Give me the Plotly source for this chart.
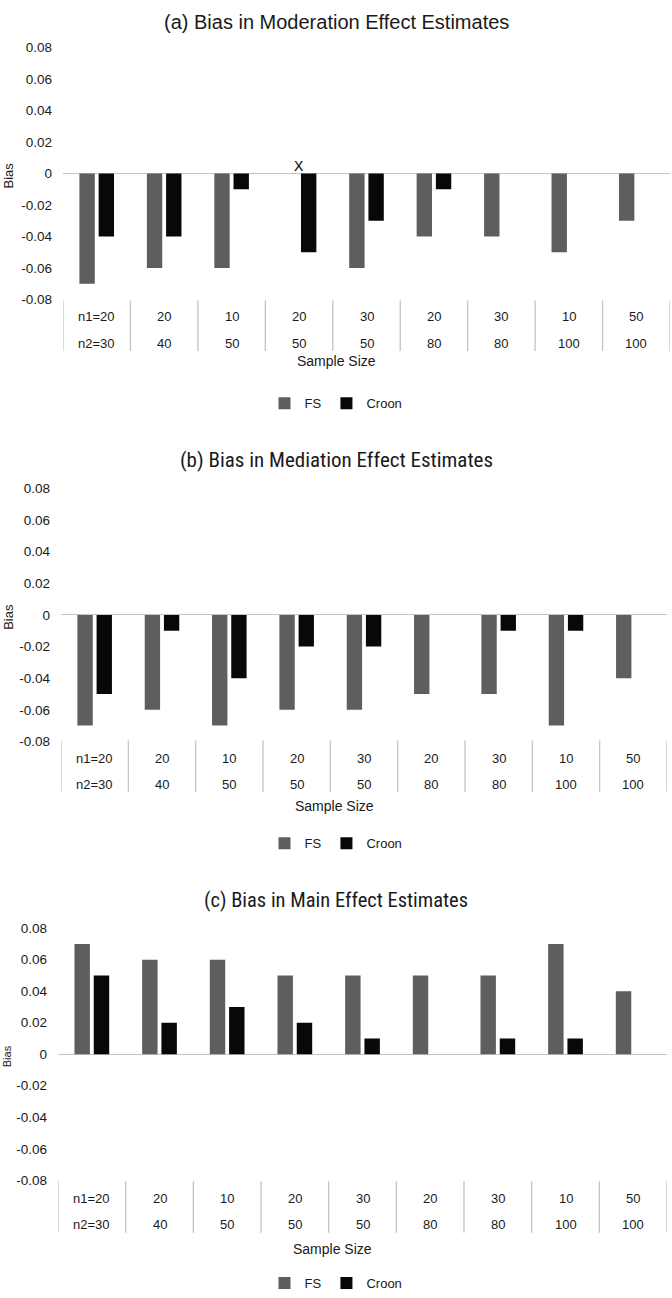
import plotly.graph_objects as go

W, H = 672, 1298

# ---------------- data ----------------
n1 = [20, 20, 10, 20, 30, 20, 30, 10, 50]
n2 = [30, 40, 50, 50, 50, 80, 80, 100, 100]
categories = [f"{a}/{b}" for a, b in zip(n1, n2)]

titles = ["(a) Bias in Moderation Effect Estimates",
          "(b) Bias in Mediation Effect Estimates",
          "(c) Bias in Main Effect Estimates"]

fs_a = [-0.07, -0.06, -0.06, None, -0.06, -0.04, -0.04, -0.05, -0.03]
croon_a = [-0.04, -0.04, -0.01, -0.05, -0.03, -0.01, 0, 0, 0]

fs_b = [-0.07, -0.06, -0.07, -0.06, -0.06, -0.05, -0.05, -0.07, -0.04]
croon_b = [-0.05, -0.01, -0.04, -0.02, -0.02, 0, -0.01, -0.01, 0]

fs_c = [0.07, 0.06, 0.06, 0.05, 0.05, 0.05, 0.05, 0.07, 0.04]
croon_c = [0.05, 0.02, 0.03, 0.02, 0.01, 0, 0.01, 0.01, 0]

y_ticks = [0.08, 0.06, 0.04, 0.02, 0, -0.02, -0.04, -0.06, -0.08]
y_tick_text = ["0.08", "0.06", "0.04", "0.02", "0", "-0.02", "-0.04", "-0.06", "-0.08"]

series_names = ["FS", "Croon"]
missing_mark = {"panel": 0, "category": "20/50", "text": "X"}

# ---------------- layout helpers (pixel geometry) ----------------
def py(p):
    return 1 - p / H

def px(p):
    return p / W

panels = [
    dict(fs=fs_a, croon=croon_a, top=41, bot=296, left=63, right=670, title_y=15, title_size=20,
         sep_top=297, sep_bot=348, r1=313, r2=340, sample=358, legend=401, bias_x=9, bias_size=13),
    dict(fs=fs_b, croon=croon_b, top=487, bot=743, left=61, right=667, title_y=458, title_size=21,
         sep_top=742, sep_bot=794, r1=760, r2=787, sample=808, legend=846, bias_x=9, bias_size=13),
    dict(fs=fs_c, croon=croon_c, top=932, bot=1187, left=58, right=667, title_y=903, title_size=20.5,
         sep_top=1188, sep_bot=1240, r1=1205, r2=1232, sample=1257, legend=1291, bias_x=7, bias_size=11),
]

FS_COLOR = "#5e5e5e"
CROON_COLOR = "#080808"
LINE_COLOR = "#c4c4c4"
TEXT_COLOR = "#1a1a1a"
FONT = "Liberation Sans, Arial, sans-serif"
NARROW = "Liberation Sans Narrow, Arial Narrow, Roboto Condensed, Liberation Sans, sans-serif"

fig = go.Figure()
annotations = []
shapes = []
layout = {}

for i, p in enumerate(panels):
    k = "" if i == 0 else str(i + 1)
    xa, ya = "x" + k, "y" + k
    leg = "legend" + k
    fig.add_trace(go.Bar(x=categories, y=p["fs"], name=series_names[0], marker_color=FS_COLOR,
                         marker_line_width=0, xaxis=xa, yaxis=ya, legend=leg))
    fig.add_trace(go.Bar(x=categories, y=p["croon"], name=series_names[1], marker_color=CROON_COLOR,
                         marker_line_width=0, xaxis=xa, yaxis=ya, legend=leg))

    layout["xaxis" + k] = dict(domain=[px(p["left"]), px(p["right"])], anchor=ya,
                               type="category", categoryorder="array", categoryarray=categories,
                               range=[-0.5, len(categories) - 0.5],
                               showticklabels=False, showgrid=False, zeroline=False,
                               showline=False, ticks="", fixedrange=True)
    layout["yaxis" + k] = dict(domain=[py(p["bot"]), py(p["top"])], anchor=xa,
                               range=[-0.08, 0.08], tickvals=y_ticks, ticktext=y_tick_text,
                               showgrid=False, zeroline=True, zerolinecolor=LINE_COLOR,
                               zerolinewidth=1.3, showline=False, ticks="",
                               ticklabelstandoff=10,
                               tickfont=dict(family=FONT, size=13.5, color=TEXT_COLOR))
    layout[leg] = dict(orientation="h", x=0.5, xanchor="center", y=py(p["legend"]),
                       yanchor="middle", font=dict(family=FONT, size=13, color=TEXT_COLOR),
                       itemwidth=30, tracegroupgap=0, bgcolor="rgba(0,0,0,0)")

    # title
    annotations.append(dict(text=titles[i], xref="paper", yref="paper", x=0.5, y=py(p["title_y"]),
                            xanchor="center", yanchor="middle", showarrow=False,
                            font=dict(family=FONT if i == 0 else NARROW, size=p["title_size"],
                                      color=TEXT_COLOR)))
    # y title
    annotations.append(dict(text="Bias", xref="paper", yref="paper", x=px(p["bias_x"]),
                            y=py((p["top"] + p["bot"]) / 2 + 2), textangle=-90,
                            xanchor="center", yanchor="middle", showarrow=False,
                            font=dict(family=FONT, size=p["bias_size"], color=TEXT_COLOR)))
    # table rows
    for j, c in enumerate(categories):
        t1 = f"n1={n1[j]}" if j == 0 else str(n1[j])
        t2 = f"n2={n2[j]}" if j == 0 else str(n2[j])
        for txt, yy in ((t1, p["r1"]), (t2, p["r2"])):
            annotations.append(dict(text=txt, xref=xa, yref="paper", x=c, y=py(yy),
                                    xanchor="center", yanchor="middle", showarrow=False,
                                    font=dict(family=FONT, size=13, color=TEXT_COLOR)))
    # separators
    for j in range(len(categories) + 1):
        shapes.append(dict(type="line", xref=xa, yref="paper", x0=j - 0.5, x1=j - 0.5,
                           y0=py(p["sep_top"]), y1=py(p["sep_bot"]),
                           line=dict(color=LINE_COLOR, width=1.3)))
    # axis title
    annotations.append(dict(text="Sample Size", xref="paper", yref="paper",
                            x=px((p["left"] + p["right"]) / 2 - 30), y=py(p["sample"]),
                            xanchor="center", yanchor="middle", showarrow=False,
                            font=dict(family=FONT, size=14, color=TEXT_COLOR)))

# missing-value marker in panel (a)
annotations.append(dict(text=missing_mark["text"], xref="x", yref="y", x=missing_mark["category"], y=0,
                        yshift=8, xanchor="center", yanchor="middle", showarrow=False,
                        font=dict(family=FONT, size=14, color="#000000")))

fig.update_layout(width=W, height=H, margin=dict(l=0, r=0, t=0, b=0),
                  paper_bgcolor="white", plot_bgcolor="white",
                  barmode="group", bargap=0.43, bargroupgap=0.2,
                  showlegend=True, annotations=annotations, shapes=shapes, **layout)

fig.write_html("out.html")
